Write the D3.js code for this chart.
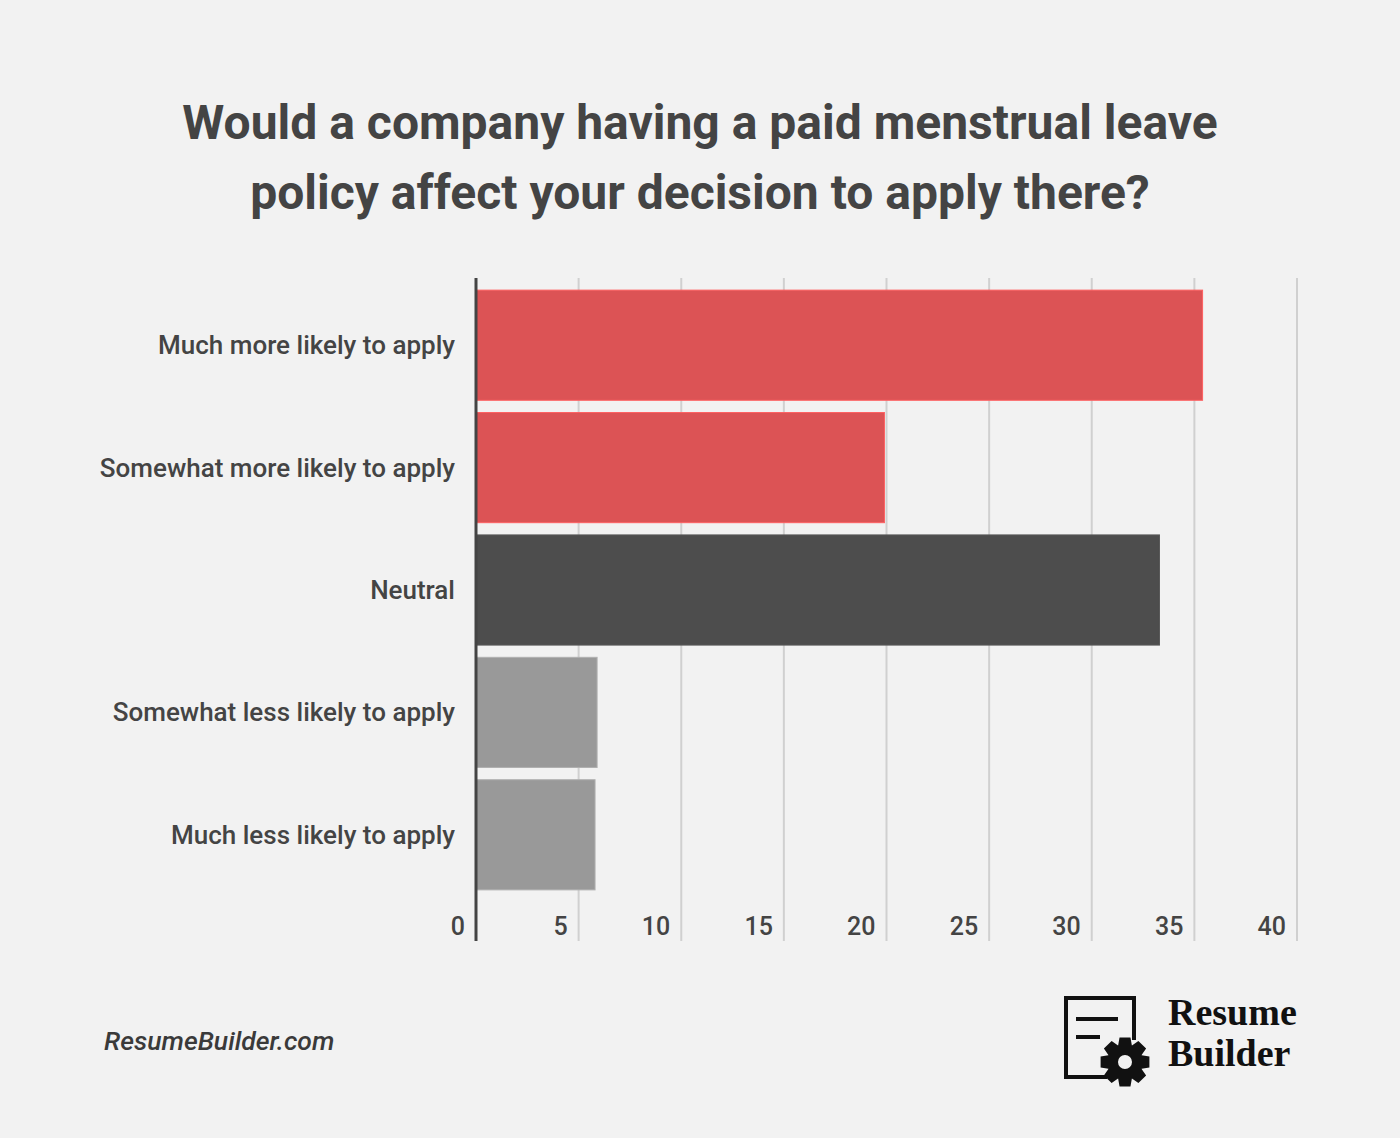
<!DOCTYPE html>
<html><head><meta charset="utf-8">
<script src="https://cdn.jsdelivr.net/npm/d3@7"></script>
<style>html,body{margin:0;padding:0;background:#f2f2f2;}svg{display:block;}</style>
</head><body>
<script>
const categories = ["Much more likely to apply","Somewhat more likely to apply","Neutral","Somewhat less likely to apply","Much less likely to apply"];
const values = [35.4, 19.9, 33.3, 5.9, 5.8];
const colors = ["#dc5355","#dc5355","#4d4d4d","#999999","#999999"];
const tickValues = [0,5,10,15,20,25,30,35,40];
const titleLines = ["Would a company having a paid menstrual leave","policy affect your decision to apply there?"];

const W=1400,H=1138;
const svg=d3.select("body").append("svg").attr("width",W).attr("height",H);
svg.append("rect").attr("width",W).attr("height",H).attr("fill","#f2f2f2");

svg.selectAll("text.title").data(titleLines).join("text")
  .attr("x",700).attr("y",(d,i)=>139+i*70).attr("text-anchor","middle")
  .attr("font-family","Roboto").attr("font-weight",700).attr("font-size",48)
  .attr("fill","#444").text(d=>d);

const x=d3.scaleLinear().domain([0,40]).range([476,1297]);
const y=d3.scaleBand().domain(categories).range([284,896]).paddingInner(0.1).paddingOuter(0.05);

// gridlines
svg.selectAll("line.grid").data(tickValues.slice(1)).join("line")
  .attr("x1",d=>x(d)).attr("x2",d=>x(d)).attr("y1",278).attr("y2",941)
  .attr("stroke","#d0d0d0").attr("stroke-width",2);

svg.selectAll("rect.bar").data(values).join("rect")
  .attr("x",x(0)).attr("y",(d,i)=>y(categories[i]))
  .attr("width",d=>x(d)-x(0)).attr("height",y.bandwidth())
  .attr("fill",(d,i)=>colors[i])
  .attr("stroke",(d,i)=>d3.color(colors[i]).brighter(0.4)).attr("stroke-width",1);

// axis line
svg.append("line").attr("x1",x(0)).attr("x2",x(0)).attr("y1",278).attr("y2",941)
  .attr("stroke","#444").attr("stroke-width",3);

// tick labels
svg.selectAll("text.tick").data(tickValues).join("text")
  .attr("x",d=>x(d)-11).attr("y",935).attr("text-anchor","end")
  .attr("font-family","Roboto").attr("font-weight",500).attr("font-size",25).attr("fill","#444").text(d=>d);

// category labels
svg.selectAll("text.cat").data(categories).join("text")
  .attr("x",455).attr("y",d=>y(d)+y.bandwidth()/2+9).attr("text-anchor","end")
  .attr("font-family","Roboto").attr("font-weight",500).attr("font-size",26).attr("fill","#444").text(d=>d);

// footer
svg.append("text").attr("x",104).attr("y",1050)
  .attr("font-family","Roboto").attr("font-style","italic").attr("font-weight",500)
  .attr("font-size",26.5).attr("fill","#3a3a3a").text("ResumeBuilder.com");

// logo
const g=svg.append("g");
g.append("path").attr("d","M1107,1077 L1066,1077 L1066,998 L1134,998 L1134,1040")
  .attr("fill","none").attr("stroke","#111").attr("stroke-width",4);
g.append("line").attr("x1",1076).attr("x2",1118).attr("y1",1019).attr("y2",1019).attr("stroke","#111").attr("stroke-width",4);
g.append("line").attr("x1",1076).attr("x2",1100).attr("y1",1037).attr("y2",1037).attr("stroke","#111").attr("stroke-width",4);
// gear
const cx=1125,cy=1062;
const teeth=8; let pts=[];
for(let i=0;i<teeth;i++){
  const a=i*2*Math.PI/teeth;
  const w=0.22;
  [[a-0.39,18],[a-w,25],[a+w,25],[a+0.39,18]].forEach(([ang,r])=>pts.push([cx+r*Math.cos(ang),cy+r*Math.sin(ang)]));
}
g.append("path").attr("d","M"+pts.map(p=>p.join(",")).join("L")+"Z M"+(cx+7)+","+cy+" A7,7 0 1,0 "+(cx-7)+","+cy+" A7,7 0 1,0 "+(cx+7)+","+cy+"Z")
  .attr("fill","#111").attr("fill-rule","evenodd");
g.append("text").attr("x",1168).attr("y",1025).attr("font-family","Liberation Serif").attr("font-weight",700)
  .attr("font-size",38).attr("fill","#111").text("Resume");
g.append("text").attr("x",1168).attr("y",1066).attr("font-family","Liberation Serif").attr("font-weight",700)
  .attr("font-size",38).attr("fill","#111").text("Builder");
</script>
</body></html>
